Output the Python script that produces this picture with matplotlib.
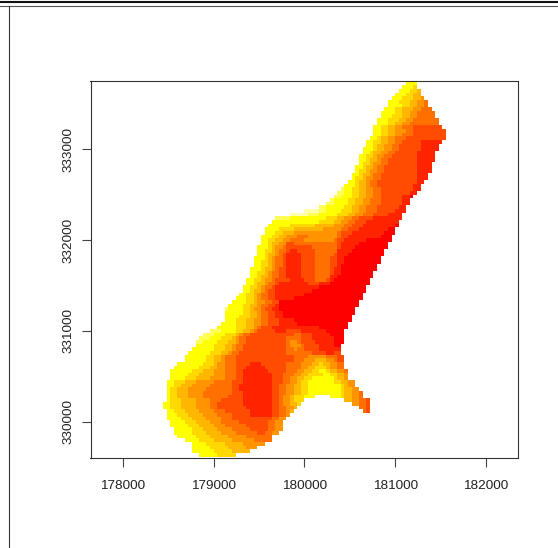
import numpy as np
import matplotlib
matplotlib.use('Agg')
import matplotlib.pyplot as plt
from matplotlib.colors import ListedColormap
from matplotlib.lines import Line2D

# prediction levels, 0 = highest (red), 9 = lowest (pale yellow)
level_colors = ['#FF0000', '#FF2400', '#FF4C00', '#FF7000', '#FF9300', '#FFB600',
                '#FFD800', '#FFFF00', '#FFFF55', '#FFFFB0']
x_ticks = [178000, 179000, 180000, 181000, 182000]
y_ticks = [330000, 331000, 332000, 333000]

# grid rows from the top, 'first column  level:count ...', '.' is no data
grid_rows = [
    "68 7:1",
    "67 7:3",
    "66 7:3 6:1",
    "65 7:3 6:2 5:1",
    "64 7:3 6:2 5:2",
    "63 7:3 6:3 5:2 4:1",
    "62 7:3 6:3 5:2 4:2 3:1",
    "62 7:4 6:2 5:2 4:2 3:1",
    "61 7:3 6:2 5:3 4:2 3:3",
    "60 7:4 6:2 5:2 4:2 3:5",
    "60 7:3 6:3 5:2 4:2 3:5",
    "59 7:3 6:3 5:2 4:2 3:7",
    "59 7:3 6:2 5:2 4:2 3:8",
    "58 7:2 6:2 5:2 4:2 3:3 2:8",
    "58 7:2 6:2 5:2 4:3 3:2 2:9",
    "58 7:2 6:2 5:2 4:2 3:3 2:9",
    "57 7:2 6:1 5:2 4:2 3:3 2:11",
    "56 7:2 6:2 5:2 4:2 3:2 2:5 1:6",
    "56 7:2 6:1 5:2 4:2 3:2 2:6 1:5",
    "55 7:3 6:1 5:2 4:2 3:2 2:6 1:5",
    "55 7:2 6:1 5:2 4:2 3:2 2:6 1:5",
    "54 7:2 6:2 5:1 4:2 3:2 2:7 1:5",
    "54 7:2 6:1 5:2 4:1 3:2 2:8 1:5",
    "54 7:1 6:2 5:1 4:2 3:2 2:8 1:4",
    "53 7:2 6:1 5:2 4:1 3:2 2:9 1:4",
    "53 7:1 6:2 5:1 4:2 3:2 2:9 1:4",
    "52 7:2 6:1 5:2 4:1 3:2 2:10 1:3",
    "52 7:1 6:2 5:1 4:2 3:2 2:10 1:3",
    "51 7:2 6:1 5:2 4:1 3:2 2:11 1:2",
    "50 7:3 6:1 5:2 4:1 3:2 2:10 1:2",
    "49 8:1 7:2 6:2 5:2 4:2 3:2 2:9 1:2",
    "48 8:2 7:2 6:2 5:2 4:2 3:2 2:8 1:2",
    "47 8:2 7:3 6:2 5:2 4:2 3:2 2:6 1:2 0:1",
    "46 8:1 7:4 6:2 5:2 4:2 3:3 2:6 1:2",
    "45 8:2 7:4 6:2 5:2 4:2 3:3 2:6 1:2",
    "43 8:2 7:5 6:2 5:2 4:2 3:3 2:6 1:2",
    "39 9:4 8:2 7:4 6:3 5:2 4:2 3:3 2:5 1:3",
    "35 9:5 8:3 7:5 6:3 5:2 4:2 3:3 2:4 1:4",
    "31 8:4 7:10 6:3 5:2 4:2 3:2 2:4 1:8",
    "30 7:13 6:4 5:2 4:2 3:2 2:3 1:9",
    "29 7:6 6:7 5:5 4:3 3:2 2:3 1:9 0:1",
    "28 7:4 6:4 5:8 4:5 3:2 2:3 1:8 0:2",
    "28 7:3 6:2 5:3 4:12 3:1 2:3 1:9 0:3",
    "27 7:3 6:2 5:2 4:3 3:3 4:8 3:1 2:2 1:9 0:3",
    "27 7:2 6:2 5:2 4:2 3:4 4:8 3:1 2:2 1:6 0:7",
    "27 7:2 6:1 5:2 4:2 2:2 3:12 2:1 1:5 0:8",
    "26 7:3 6:1 5:1 4:2 3:1 2:7 3:7 2:1 1:4 0:9",
    "26 7:2 6:2 5:1 4:1 3:2 2:1 1:2 2:5 3:6 1:4 0:9",
    "26 7:2 6:1 5:2 4:1 3:1 2:1 1:4 2:4 3:5 2:1 1:3 0:10",
    "25 7:3 6:1 5:1 4:1 3:2 2:1 1:4 2:4 3:4 2:2 1:2 0:10",
    "25 7:2 6:2 5:1 4:1 3:2 2:1 1:4 2:4 3:4 2:2 1:2 0:10",
    "25 7:2 6:2 5:1 4:1 3:2 2:1 1:4 2:4 3:4 2:2 1:1 0:10",
    "24 7:3 6:1 5:2 4:1 3:1 2:2 1:4 2:4 3:4 2:1 1:2 0:10",
    "24 7:2 6:2 5:1 4:1 3:2 2:2 1:4 2:4 3:4 2:1 1:2 0:9",
    "24 7:2 6:1 5:2 4:1 3:2 2:2 1:4 2:4 3:4 1:2 0:10",
    "23 7:2 6:2 5:1 4:2 3:1 2:4 1:4 2:3 3:3 2:1 1:1 0:10",
    "23 7:2 6:1 5:2 4:1 3:2 2:1 1:8 2:3 1:3 0:11",
    "22 7:2 6:2 5:1 4:1 3:2 2:1 1:10 1:2 0:13",
    "22 7:2 6:1 5:2 4:1 3:1 2:2 1:10 0:15",
    "21 7:2 6:2 5:1 4:1 3:2 2:2 1:8 0:16",
    "20 7:3 6:2 5:1 4:1 3:2 2:2 1:5 0:19",
    "19 7:4 6:2 5:1 4:2 3:2 2:2 0:22",
    "18 7:4 6:2 5:2 4:1 3:2 2:2 1:1 0:22",
    "17 8:1 7:4 6:2 5:1 4:2 3:1 2:2 1:2 0:21",
    "17 7:5 6:2 5:2 4:1 3:2 2:2 1:2 0:20",
    "17 7:4 6:3 5:2 4:1 3:2 2:2 1:2 0:19",
    "17 7:3 6:3 5:2 4:2 3:2 2:3 1:4 0:16",
    "16 7:4 6:3 5:2 4:2 3:2 2:3 1:5 0:14",
    "15 7:5 6:3 5:2 4:1 3:1 2:3 1:13 0:8",
    "13 8:3 7:4 6:2 5:2 4:1 3:1 2:5 1:3 2:4 1:7 0:5",
    "11 8:3 7:3 6:3 5:1 4:1 3:2 2:12 3:2 2:3 1:5 0:4",
    "10 8:3 7:3 6:3 5:1 4:1 3:2 2:11 3:4 2:3 1:6 0:3",
    "9 8:2 7:4 6:3 5:2 4:1 3:2 2:11 3:1 4:2 3:1 2:4 1:5 0:3",
    "9 7:5 6:3 5:2 4:1 3:2 2:12 3:1 4:3 3:1 2:4 1:4 0:2",
    "8 7:6 6:3 5:2 4:1 3:2 2:12 3:2 4:1 3:2 2:4 1:6",
    "7 7:6 6:3 5:2 4:1 3:2 2:13 3:7 2:4 1:2 2:2",
    "6 7:6 6:2 5:2 4:1 3:3 2:16 3:4 4:5 3:3 2:2",
    "6 7:6 6:2 5:2 4:1 3:3 2:16 3:3 4:3 5:3 4:2 3:1 2:2",
    "4 7:7 6:3 5:1 4:2 3:3 2:4 1:3 2:7 3:4 4:3 5:2 6:1 5:2 4:2 3:2",
    "3 7:7 6:3 5:2 4:2 3:3 2:3 1:5 2:6 3:4 4:2 5:2 6:3 5:1 4:2 3:2",
    "2 7:6 6:3 5:3 4:3 3:3 2:2 1:7 2:5 3:3 4:2 5:2 6:2 7:2 6:1 5:2 4:2 3:1",
    "2 7:5 6:3 5:4 4:3 3:3 2:2 1:8 2:3 3:3 4:2 5:2 6:4 7:2 6:2 5:2 4:1",
    "2 7:4 6:3 5:4 4:4 3:3 2:2 1:8 2:3 3:2 4:2 5:2 6:2 7:6 6:1 5:2 4:1",
    "1 7:2 6:3 5:3 4:5 3:5 2:3 1:8 2:3 3:2 4:2 5:1 6:2 7:7 6:2 5:2 4:2",
    "1 7:2 6:2 5:3 4:5 3:6 2:2 1:9 2:2 3:2 4:2 5:2 6:2 7:9 6:1 5:1 4:2",
    "1 7:1 6:2 5:3 4:5 3:7 2:2 1:9 2:2 3:2 4:2 5:2 6:2 7:9 6:1 5:2 4:2",
    "1 7:1 6:2 5:3 4:4 3:8 2:3 1:8 2:2 3:2 4:2 5:2 6:2 7:9 6:1 5:2 4:2 3:1",
    "1 7:1 6:2 5:3 4:4 3:7 2:4 1:8 2:2 3:1 4:2 5:1 6:3 7:3 .:4 7:3 6:1 5:2 4:2 3:1",
    "1 7:1 6:3 5:4 4:4 3:3 2:6 1:8 2:2 3:1 4:2 5:1 6:3 .:11 5:2 4:2 3:2 2:1",
    "0 7:2 6:3 5:4 4:4 3:2 2:7 1:8 2:2 3:1 4:2 5:2 6:1 .:14 4:2 3:2 2:1",
    "0 7:2 6:3 5:4 4:4 3:2 2:8 1:7 2:2 3:2 4:2 5:1 .:17 3:2 2:1",
    "1 7:2 6:3 5:4 4:4 3:3 2:7 1:6 2:2 3:2 4:1 5:1 .:19 3:1 2:1",
    "1 7:3 6:3 5:4 4:4 3:4 2:5 1:6 2:2 3:2 4:1",
    "1 7:4 6:3 5:4 4:4 3:3 2:11 3:2 4:2",
    "2 7:4 6:3 5:4 4:3 3:5 2:8 3:2 4:2",
    "2 7:5 6:3 5:4 4:3 3:6 2:6 3:2 4:2",
    "3 7:5 6:3 5:4 4:4 3:5 2:5 3:2 4:2",
    "3 7:5 6:4 5:4 4:4 3:6 2:2 3:2 4:2",
    "4 7:5 6:4 5:5 4:5 3:7",
    "6 7:4 6:4 5:5 4:6 3:5",
    "8 7:4 6:5 5:5 4:6",
    "8 7:5 6:5 5:5 4:3",
    "8 7:6 6:5 5:5",
    "10 7:5 6:5",
]

grid = np.full((len(grid_rows), 78), np.nan)
for r, row in enumerate(grid_rows):
    parts = row.split()
    c = int(parts[0])
    for p in parts[1:]:
        lev, n = p.split(':')
        if lev != '.':
            grid[r, c:c + int(n)] = int(lev)
        c += int(n)

x_edges = 178440 + 40 * np.arange(79)
y_edges = 333780 - 40 * np.arange(len(grid_rows) + 1)

W, H = 558, 548
fig = plt.figure(figsize=(W / 100, H / 100), dpi=100)
plt.rcParams['font.family'] = ['Liberation Sans', 'DejaVu Sans']

# outer frame left over from the screenshot
fig.add_artist(Line2D([0, 1], [1 - 1.5 / H] * 2, color='#111111', lw=1.5))
fig.add_artist(Line2D([0, 1], [1 - 5.5 / H] * 2, color='#555555', lw=0.8))
fig.add_artist(Line2D([8.5 / W] * 2, [0, 1 - 5.5 / H], color='#333333', lw=0.8))

ax = fig.add_axes([90.5 / W, 1 - 458 / H, (518 - 90.5) / W, (458 - 80.5) / H])
cmap = ListedColormap(level_colors)
ax.pcolormesh(x_edges, y_edges, np.ma.masked_invalid(grid), cmap=cmap, vmin=-0.5, vmax=9.5,
              antialiased=False, linewidth=0)
ax.set_xlim(177642, 182353)
ax.set_ylim(329604, 333753)
ax.set_xticks(x_ticks)
ax.set_yticks(y_ticks)
ax.set_xticklabels([str(v) for v in x_ticks], fontsize=9.7, color='#222222')
ax.set_yticklabels([str(v) for v in y_ticks], fontsize=9.7, color='#222222', rotation=90, va='center')
ax.tick_params(axis='x', length=6.5, width=0.8, color='#444444', pad=9)
ax.tick_params(axis='y', length=6.5, width=0.8, color='#444444', pad=5)
for s in ax.spines.values():
    s.set_linewidth(0.8)
    s.set_color('#333333')

fig.savefig('out.png', dpi=100)
